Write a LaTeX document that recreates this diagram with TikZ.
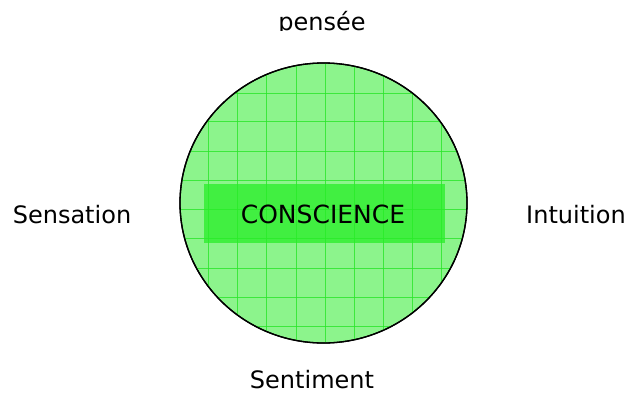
\documentclass[tikz,border=0pt]{standalone}
\usepackage{fontspec}
\usetikzlibrary{shapes.geometric}
\setmainfont{DejaVu Sans}
\definecolor{circfill}{RGB}{140,244,140}
\definecolor{gridgreen}{RGB}{40,230,40}
\definecolor{boxgreen}{RGB}{40,238,40}
\tikzset{
  lbl/.style={font=\fontsize{24}{28}\selectfont, inner sep=0pt, anchor=base},
  ring/.style={draw=black, line width=1.3pt, fill=circfill},
  gridline/.style={draw=gridgreen, line width=0.7pt, opacity=0.8},
  bandbox/.style={fill=boxgreen, fill opacity=0.75, inner sep=0pt, minimum width=241pt, minimum height=59pt}
}
\begin{document}
\begin{tikzpicture}[x=1pt,y=-1pt]
\useasboundingbox (0,0) rectangle (633,394);
\coordinate (ctr) at (323.5,203);
\node[ring, ellipse, minimum width=287pt, minimum height=280pt, inner sep=0pt] (disc) at (ctr) {};
\begin{scope}
  \clip (ctr) ellipse [x radius=143, y radius=139.5];
  \foreach \gx in {208.3,237.5,266.8,296.3,325.6,354.5,383.5,412.4,441.6} {
    \draw[gridline] (\gx,60) -- (\gx,346);
  }
  \foreach \gy in {93.3,121.8,151,180.2,209.8,238.5,268.2,296.9,326.6} {
    \draw[gridline] (176,\gy) -- (470,\gy);
  }
\end{scope}
\draw[line width=1.3pt] (ctr) ellipse [x radius=143.5, y radius=140];
\node[bandbox] (band) at (324.5,213.5) {};
\node[font=\fontsize{25}{30}\selectfont, anchor=base, inner sep=0pt] (consc) at (323,223) {CONSCIENCE};
\begin{scope}
  \clip (0,0) rectangle (633,30);
  \node[lbl] (pensee) at (322,30) {pensée};
\end{scope}
\node[lbl] (sensation) at (72,223) {Sensation};
\node[lbl] (intuition) at (576,223) {Intuition};
\node[lbl] (sentiment) at (312,388) {Sentiment};
\end{tikzpicture}
\end{document}
